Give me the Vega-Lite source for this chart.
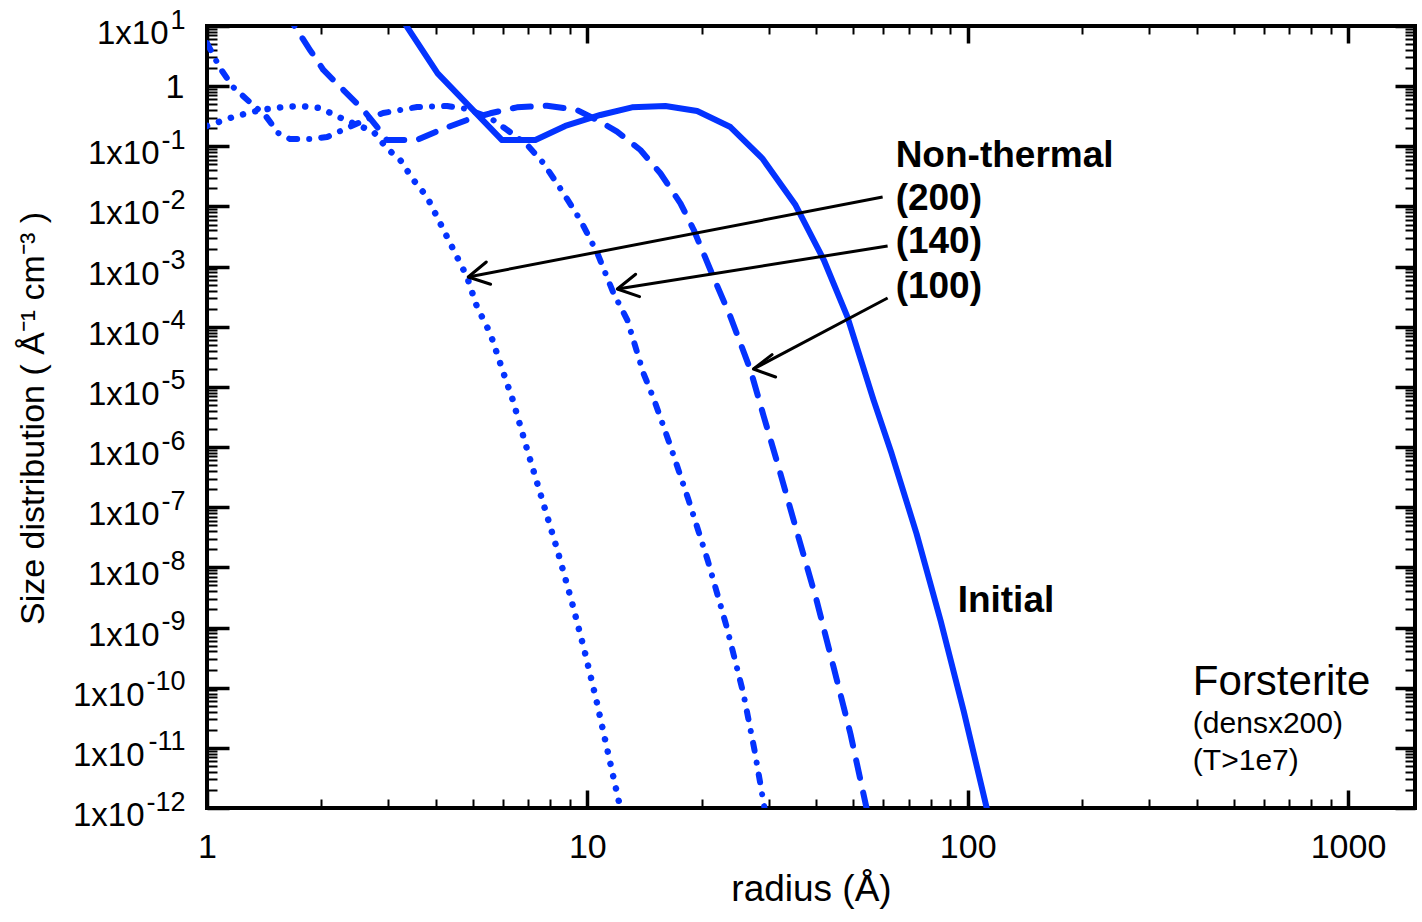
{
  "$schema": "https://vega.github.io/schema/vega-lite/v6.json",
  "width": 1208,
  "height": 782,
  "autosize": {"type": "none"},
  "padding": {"left": 207, "top": 26, "right": 7, "bottom": 114},
  "background": "white",
  "config": {
    "view": {"stroke": "black", "strokeWidth": 4},
    "font": "Liberation Sans",
    "axis": {"grid": false, "domain": false, "tickColor": "black", "labelColor": "black", "titleColor": "black", "labelFont": "Liberation Sans", "titleFont": "Liberation Sans", "titleFontWeight": "normal", "labelFlush": false, "labelOverlap": false}
  },
  "datasets": {
    "curves": [
      {"series": "Initial", "r": 3.0, "v": 28.4},
      {"series": "Initial", "r": 4.04, "v": 1.636},
      {"series": "Initial", "r": 5.965, "v": 0.127},
      {"series": "Initial", "r": 7.30, "v": 0.127},
      {"series": "Initial", "r": 8.75, "v": 0.218},
      {"series": "Initial", "r": 10.82, "v": 0.332},
      {"series": "Initial", "r": 13.11, "v": 0.445},
      {"series": "Initial", "r": 16.04, "v": 0.468},
      {"series": "Initial", "r": 19.44, "v": 0.386},
      {"series": "Initial", "r": 23.78, "v": 0.209},
      {"series": "Initial", "r": 28.83, "v": 0.0632},
      {"series": "Initial", "r": 35.27, "v": 0.01057},
      {"series": "Initial", "r": 41.86, "v": 0.001288},
      {"series": "Initial", "r": 48.25, "v": 0.0001469},
      {"series": "Initial", "r": 56.57, "v": 6.05e-6},
      {"series": "Initial", "r": 63.1, "v": 7.81e-7},
      {"series": "Initial", "r": 73.4, "v": 3.61e-8},
      {"series": "Initial", "r": 84.9, "v": 1.30e-9},
      {"series": "Initial", "r": 97.6, "v": 4.09e-11},
      {"series": "Initial", "r": 112.2, "v": 1e-12},
      {"series": "Non-thermal (100)", "r": 1.6, "v": 18.0},
      {"series": "Non-thermal (100)", "r": 1.704, "v": 9.73},
      {"series": "Non-thermal (100)", "r": 1.866, "v": 3.99},
      {"series": "Non-thermal (100)", "r": 2.023, "v": 1.856},
      {"series": "Non-thermal (100)", "r": 2.284, "v": 0.863},
      {"series": "Non-thermal (100)", "r": 2.578, "v": 0.401},
      {"series": "Non-thermal (100)", "r": 2.796, "v": 0.212},
      {"series": "Non-thermal (100)", "r": 2.971, "v": 0.127},
      {"series": "Non-thermal (100)", "r": 3.563, "v": 0.127},
      {"series": "Non-thermal (100)", "r": 4.104, "v": 0.187},
      {"series": "Non-thermal (100)", "r": 4.825, "v": 0.274},
      {"series": "Non-thermal (100)", "r": 5.555, "v": 0.354},
      {"series": "Non-thermal (100)", "r": 6.531, "v": 0.445},
      {"series": "Non-thermal (100)", "r": 7.832, "v": 0.473},
      {"series": "Non-thermal (100)", "r": 9.395, "v": 0.401},
      {"series": "Non-thermal (100)", "r": 10.82, "v": 0.2565},
      {"series": "Non-thermal (100)", "r": 11.97, "v": 0.175},
      {"series": "Non-thermal (100)", "r": 13.79, "v": 0.0868},
      {"series": "Non-thermal (100)", "r": 15.56, "v": 0.0356},
      {"series": "Non-thermal (100)", "r": 17.57, "v": 0.01128},
      {"series": "Non-thermal (100)", "r": 19.05, "v": 0.00406},
      {"series": "Non-thermal (100)", "r": 21.07, "v": 0.000878},
      {"series": "Non-thermal (100)", "r": 23.78, "v": 0.0001469},
      {"series": "Non-thermal (100)", "r": 26.85, "v": 1.91e-5},
      {"series": "Non-thermal (100)", "r": 29.11, "v": 3.195e-6},
      {"series": "Non-thermal (100)", "r": 31.44, "v": 6.09e-7},
      {"series": "Non-thermal (100)", "r": 35.27, "v": 4.69e-8},
      {"series": "Non-thermal (100)", "r": 40.05, "v": 2.86e-9},
      {"series": "Non-thermal (100)", "r": 44.4, "v": 2.2e-10},
      {"series": "Non-thermal (100)", "r": 49.2, "v": 1.69e-11},
      {"series": "Non-thermal (100)", "r": 54.2, "v": 1e-12},
      {"series": "Non-thermal (140)", "r": 1.0, "v": 5.2},
      {"series": "Non-thermal (140)", "r": 1.082, "v": 2.0},
      {"series": "Non-thermal (140)", "r": 1.171, "v": 0.968},
      {"series": "Non-thermal (140)", "r": 1.321, "v": 0.486},
      {"series": "Non-thermal (140)", "r": 1.421, "v": 0.3315},
      {"series": "Non-thermal (140)", "r": 1.538, "v": 0.1664},
      {"series": "Non-thermal (140)", "r": 1.654, "v": 0.1322},
      {"series": "Non-thermal (140)", "r": 1.866, "v": 0.1322},
      {"series": "Non-thermal (140)", "r": 2.069, "v": 0.1427},
      {"series": "Non-thermal (140)", "r": 2.336, "v": 0.2015},
      {"series": "Non-thermal (140)", "r": 2.605, "v": 0.2737},
      {"series": "Non-thermal (140)", "r": 2.905, "v": 0.3577},
      {"series": "Non-thermal (140)", "r": 3.569, "v": 0.450},
      {"series": "Non-thermal (140)", "r": 4.281, "v": 0.4677},
      {"series": "Non-thermal (140)", "r": 4.833, "v": 0.417},
      {"series": "Non-thermal (140)", "r": 5.555, "v": 0.2954},
      {"series": "Non-thermal (140)", "r": 6.158, "v": 0.1866},
      {"series": "Non-thermal (140)", "r": 6.952, "v": 0.1051},
      {"series": "Non-thermal (140)", "r": 7.661, "v": 0.0528},
      {"series": "Non-thermal (140)", "r": 8.647, "v": 0.01673},
      {"series": "Non-thermal (140)", "r": 9.585, "v": 0.00595},
      {"series": "Non-thermal (140)", "r": 10.62, "v": 0.001683},
      {"series": "Non-thermal (140)", "r": 11.71, "v": 0.000364},
      {"series": "Non-thermal (140)", "r": 12.74, "v": 0.0001295},
      {"series": "Non-thermal (140)", "r": 14.04, "v": 1.70e-5},
      {"series": "Non-thermal (140)", "r": 14.99, "v": 6.06e-6},
      {"series": "Non-thermal (140)", "r": 16.45, "v": 1.146e-6},
      {"series": "Non-thermal (140)", "r": 18.47, "v": 1.30e-7},
      {"series": "Non-thermal (140)", "r": 20.73, "v": 1.30e-8},
      {"series": "Non-thermal (140)", "r": 23.27, "v": 1.0e-9},
      {"series": "Non-thermal (140)", "r": 25.74, "v": 7.84e-11},
      {"series": "Non-thermal (140)", "r": 27.51, "v": 9.19e-12},
      {"series": "Non-thermal (140)", "r": 29.23, "v": 1e-12},
      {"series": "Non-thermal (200)", "r": 1.0, "v": 0.2176},
      {"series": "Non-thermal (200)", "r": 1.171, "v": 0.307},
      {"series": "Non-thermal (200)", "r": 1.379, "v": 0.401},
      {"series": "Non-thermal (200)", "r": 1.585, "v": 0.450},
      {"series": "Non-thermal (200)", "r": 1.757, "v": 0.468},
      {"series": "Non-thermal (200)", "r": 1.983, "v": 0.433},
      {"series": "Non-thermal (200)", "r": 2.279, "v": 0.284},
      {"series": "Non-thermal (200)", "r": 2.739, "v": 0.175},
      {"series": "Non-thermal (200)", "r": 2.971, "v": 0.0926},
      {"series": "Non-thermal (200)", "r": 3.221, "v": 0.0592},
      {"series": "Non-thermal (200)", "r": 3.49, "v": 0.0275},
      {"series": "Non-thermal (200)", "r": 3.786, "v": 0.01453},
      {"series": "Non-thermal (200)", "r": 4.023, "v": 0.00676},
      {"series": "Non-thermal (200)", "r": 4.274, "v": 0.00314},
      {"series": "Non-thermal (200)", "r": 4.541, "v": 0.00146},
      {"series": "Non-thermal (200)", "r": 4.825, "v": 0.000679},
      {"series": "Non-thermal (200)", "r": 5.126, "v": 0.0002155},
      {"series": "Non-thermal (200)", "r": 5.555, "v": 7.78e-5},
      {"series": "Non-thermal (200)", "r": 6.022, "v": 1.683e-5},
      {"series": "Non-thermal (200)", "r": 6.367, "v": 6.06e-6},
      {"series": "Non-thermal (200)", "r": 6.952, "v": 8.93e-7},
      {"series": "Non-thermal (200)", "r": 7.613, "v": 1.318e-7},
      {"series": "Non-thermal (200)", "r": 8.339, "v": 1.943e-8},
      {"series": "Non-thermal (200)", "r": 9.078, "v": 2.86e-9},
      {"series": "Non-thermal (200)", "r": 9.82, "v": 4.22e-10},
      {"series": "Non-thermal (200)", "r": 10.56, "v": 6.23e-11},
      {"series": "Non-thermal (200)", "r": 11.29, "v": 9.19e-12},
      {"series": "Non-thermal (200)", "r": 12.21, "v": 1e-12}
    ],
    "arrows": [
      {"label": "200", "r": 59.75, "v": 0.01436},
      {"label": "200", "r": 4.862, "v": 0.0006715},
      {"label": "140", "r": 61.59, "v": 0.0022},
      {"label": "140", "r": 11.99, "v": 0.000424},
      {"label": "100", "r": 61.59, "v": 0.0003006},
      {"label": "100", "r": 27.34, "v": 1.984e-5}
    ],
    "tips": [
      {"label": "200", "r": 4.862, "v": 0.0006715},
      {"label": "140", "r": 11.99, "v": 0.000424},
      {"label": "100", "r": 27.34, "v": 1.984e-5}
    ]
  },
  "resolve": {"axis": {"x": "independent", "y": "independent"}},
  "layer": [
    {
      "data": {"name": "curves"},
      "transform": [{"filter": "datum.series === 'Initial'"}],
      "mark": {"type": "line", "color": "#0433ff", "strokeWidth": 6, "clip": true, "strokeCap": "round", "strokeJoin": "round"},
      "encoding": {
        "x": {"field": "r", "type": "quantitative", "scale": {"type": "log", "domain": [1, 1500], "nice": false},
          "axis": {"orient": "bottom", "values": [1, 10, 100, 1000], "tickSize": -18, "tickWidth": 3.5, "labelPadding": 40, "labelFontSize": 34, "labelExpr": "format(datum.value, 'd')", "title": "radius (Å)", "titleFontSize": 37, "titleX": 604, "titleY": 92, "titleBaseline": "alphabetic"}},
        "y": {"field": "v", "type": "quantitative", "scale": {"type": "log", "domain": [1e-12, 10], "nice": false},
          "axis": {"orient": "left", "values": [1e-12, 1e-11, 1e-10, 1e-9, 1e-8, 1e-7, 1e-6, 1e-5, 1e-4, 1e-3, 0.01, 0.1, 1, 10], "tickSize": -22, "tickWidth": 3.5, "labels": false, "title": "Size distribution ( Å⁻¹ cm⁻³ )", "titleFontSize": 34, "titleX": -164, "titleY": 392, "titleBaseline": "alphabetic"}}
      }
    },
    {
      "data": {"name": "curves"},
      "transform": [{"filter": "datum.series === 'Non-thermal (100)'"}],
      "mark": {"type": "line", "color": "#0433ff", "strokeWidth": 6, "clip": true, "strokeCap": "round", "strokeJoin": "round", "strokeDash": [18, 15]},
      "encoding": {
        "x": {"field": "r", "type": "quantitative",
          "axis": {"orient": "bottom", "values": [2, 3, 4, 5, 6, 7, 8, 9, 20, 30, 40, 50, 60, 70, 80, 90, 200, 300, 400, 500, 600, 700, 800, 900], "tickSize": -9, "tickWidth": 2, "labels": false, "title": null}},
        "y": {"field": "v", "type": "quantitative",
          "axis": {"orient": "left", "values": [2e-12, 3e-12, 4e-12, 5e-12, 6e-12, 7e-12, 8e-12, 9e-12, 2e-11, 3e-11, 4e-11, 5e-11, 6e-11, 7e-11, 8e-11, 9e-11, 2e-10, 3e-10, 4e-10, 5e-10, 6e-10, 7e-10, 8e-10, 9e-10, 2e-9, 3e-9, 4e-9, 5e-9, 6e-9, 7e-9, 8e-9, 9e-9, 2e-8, 3e-8, 4e-8, 5e-8, 6e-8, 7e-8, 8e-8, 9e-8, 2e-7, 3e-7, 4e-7, 5e-7, 6e-7, 7e-7, 8e-7, 9e-7, 2e-6, 3e-6, 4e-6, 5e-6, 6e-6, 7e-6, 8e-6, 9e-6, 2e-5, 3e-5, 4e-5, 5e-5, 6e-5, 7e-5, 8e-5, 9e-5, 2e-4, 3e-4, 4e-4, 5e-4, 6e-4, 7e-4, 8e-4, 9e-4, 0.002, 0.003, 0.004, 0.005, 0.006, 0.007, 0.008, 0.009, 0.02, 0.03, 0.04, 0.05, 0.06, 0.07, 0.08, 0.09, 0.2, 0.3, 0.4, 0.5, 0.6, 0.7, 0.8, 0.9, 2, 3, 4, 5, 6, 7, 8, 9], "tickSize": -10, "tickWidth": 2, "labels": false, "title": null}}
      }
    },
    {
      "data": {"name": "curves"},
      "transform": [{"filter": "datum.series === 'Non-thermal (140)'"}],
      "mark": {"type": "line", "color": "#0433ff", "strokeWidth": 6, "clip": true, "strokeCap": "round", "strokeJoin": "round", "strokeDash": [8, 12, 0.1, 12]},
      "encoding": {
        "x": {"field": "r", "type": "quantitative",
          "axis": {"orient": "top", "values": [1, 10, 100, 1000], "tickSize": -17, "tickWidth": 3.5, "labels": false, "title": null}},
        "y": {"field": "v", "type": "quantitative",
          "axis": {"orient": "right", "values": [1e-12, 1e-11, 1e-10, 1e-9, 1e-8, 1e-7, 1e-6, 1e-5, 1e-4, 1e-3, 0.01, 0.1, 1, 10], "tickSize": -20, "tickWidth": 3.5, "labels": false, "title": null}}
      }
    },
    {
      "data": {"name": "curves"},
      "transform": [{"filter": "datum.series === 'Non-thermal (200)'"}],
      "mark": {"type": "line", "color": "#0433ff", "strokeWidth": 6.5, "clip": true, "strokeCap": "round", "strokeJoin": "round", "strokeDash": [0.1, 12.5]},
      "encoding": {
        "x": {"field": "r", "type": "quantitative",
          "axis": {"orient": "top", "values": [2, 3, 4, 5, 6, 7, 8, 9, 20, 30, 40, 50, 60, 70, 80, 90, 200, 300, 400, 500, 600, 700, 800, 900], "tickSize": -8, "tickWidth": 2, "labels": false, "title": null}},
        "y": {"field": "v", "type": "quantitative",
          "axis": {"orient": "right", "values": [2e-12, 3e-12, 4e-12, 5e-12, 6e-12, 7e-12, 8e-12, 9e-12, 2e-11, 3e-11, 4e-11, 5e-11, 6e-11, 7e-11, 8e-11, 9e-11, 2e-10, 3e-10, 4e-10, 5e-10, 6e-10, 7e-10, 8e-10, 9e-10, 2e-9, 3e-9, 4e-9, 5e-9, 6e-9, 7e-9, 8e-9, 9e-9, 2e-8, 3e-8, 4e-8, 5e-8, 6e-8, 7e-8, 8e-8, 9e-8, 2e-7, 3e-7, 4e-7, 5e-7, 6e-7, 7e-7, 8e-7, 9e-7, 2e-6, 3e-6, 4e-6, 5e-6, 6e-6, 7e-6, 8e-6, 9e-6, 2e-5, 3e-5, 4e-5, 5e-5, 6e-5, 7e-5, 8e-5, 9e-5, 2e-4, 3e-4, 4e-4, 5e-4, 6e-4, 7e-4, 8e-4, 9e-4, 0.002, 0.003, 0.004, 0.005, 0.006, 0.007, 0.008, 0.009, 0.02, 0.03, 0.04, 0.05, 0.06, 0.07, 0.08, 0.09, 0.2, 0.3, 0.4, 0.5, 0.6, 0.7, 0.8, 0.9, 2, 3, 4, 5, 6, 7, 8, 9], "tickSize": -10, "tickWidth": 2, "labels": false, "title": null}}
      }
    },
    {
      "data": {"name": "arrows"},
      "mark": {"type": "line", "color": "black", "strokeWidth": 3, "clip": true},
      "encoding": {
        "x": {"field": "r", "type": "quantitative", "axis": null},
        "y": {"field": "v", "type": "quantitative",
          "axis": {"orient": "left", "values": [10], "ticks": false, "tickSize": 0, "labelPadding": 39, "labelFontSize": 33, "labelBaseline": "alphabetic", "labelOffset": 17.5, "labelExpr": "'1x10'", "title": null}},
        "detail": {"field": "label", "type": "nominal"}
      }
    },
    {
      "data": {"name": "tips"},
      "mark": {"type": "point", "shape": "M -1 -0.55 L 0 0 L -1 0.55", "filled": false, "stroke": "black", "strokeWidth": 3, "size": 1700, "opacity": 1, "strokeCap": "round", "strokeJoin": "round"},
      "encoding": {
        "x": {"field": "r", "type": "quantitative", "axis": null},
        "y": {"field": "v", "type": "quantitative",
          "axis": {"orient": "left", "values": [1e-9, 1e-8, 1e-7, 1e-6, 1e-5, 1e-4, 1e-3, 0.01, 0.1], "ticks": false, "tickSize": 0, "labelPadding": 48, "labelFontSize": 33, "labelBaseline": "alphabetic", "labelOffset": 17.5, "labelExpr": "'1x10'", "title": null}},
        "angle": {"field": "label", "type": "nominal", "scale": {"domain": ["200", "140", "100"], "range": [169.06, 170.95, 152.08]}, "legend": null}
      }
    },
    {
      "data": {"values": [
        {"text": "Non-thermal", "r": 64.65, "v": 0.04528},
        {"text": "(200)", "r": 64.65, "v": 0.00873},
        {"text": "(140)", "r": 64.65, "v": 0.001663},
        {"text": "(100)", "r": 64.65, "v": 0.000297},
        {"text": "Initial", "r": 94.1, "v": 1.79e-9}
      ]},
      "mark": {"type": "text", "align": "left", "baseline": "alphabetic", "font": "Liberation Sans", "fontWeight": "bold", "fontSize": 37, "color": "black"},
      "encoding": {
        "x": {"field": "r", "type": "quantitative", "axis": null},
        "y": {"field": "v", "type": "quantitative",
          "axis": {"orient": "left", "values": [1e-12, 1e-11, 1e-10], "ticks": false, "tickSize": 0, "labelPadding": 63, "labelFontSize": 33, "labelBaseline": "alphabetic", "labelOffset": 17.5, "labelExpr": "'1x10'", "title": null}},
        "text": {"field": "text"}
      }
    },
    {
      "data": {"values": [
        {"text": "Forsterite", "r": 390.9, "v": 7.55e-11}
      ]},
      "mark": {"type": "text", "align": "left", "baseline": "alphabetic", "font": "Liberation Sans", "fontSize": 42, "color": "black"},
      "encoding": {
        "x": {"field": "r", "type": "quantitative", "axis": null},
        "y": {"field": "v", "type": "quantitative",
          "axis": {"orient": "left", "values": [1e-12, 1e-11, 1e-10, 1e-9, 1e-8, 1e-7, 1e-6, 1e-5, 1e-4, 1e-3, 0.01, 0.1, 10], "ticks": false, "tickSize": 0, "labelPadding": 22, "labelFontSize": 27, "labelBaseline": "alphabetic", "labelOffset": 2, "labelExpr": "['-12','-11','-10','-9','-8','-7','-6','-5','-4','-3','-2','-1','','1'][round(log(datum.value)/LN10)+12]", "title": null}},
        "text": {"field": "text"}
      }
    },
    {
      "data": {"values": [
        {"text": "(densx200)", "r": 390.9, "v": 1.76e-11},
        {"text": "(T>1e7)", "r": 390.9, "v": 4.28e-12}
      ]},
      "mark": {"type": "text", "align": "left", "baseline": "alphabetic", "font": "Liberation Sans", "fontSize": 30, "color": "black"},
      "encoding": {
        "x": {"field": "r", "type": "quantitative", "axis": null},
        "y": {"field": "v", "type": "quantitative",
          "axis": {"orient": "left", "values": [1], "ticks": false, "tickSize": 0, "labelPadding": 23, "labelFontSize": 34, "labelBaseline": "middle", "labelOffset": 1, "labelExpr": "'1'", "title": null}},
        "text": {"field": "text"}
      }
    }
  ]
}
